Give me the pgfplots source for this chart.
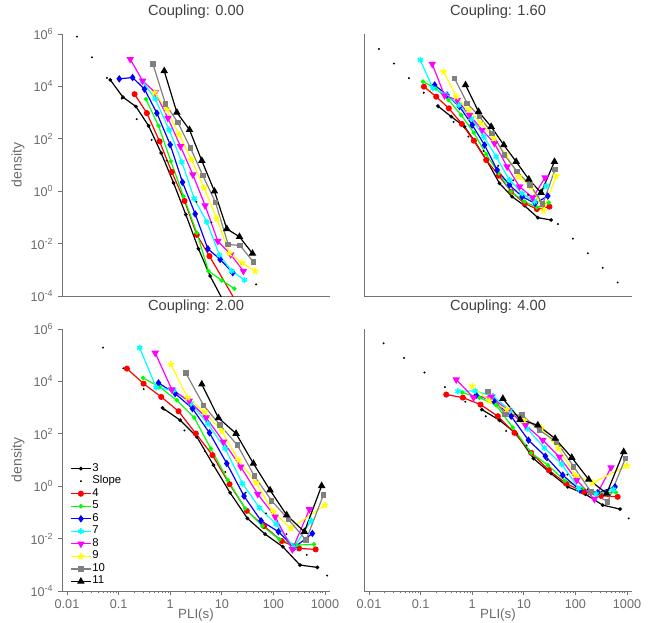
\documentclass[border=0pt]{standalone}
\usepackage{fontspec}
\setmainfont{Liberation Sans}
\usepackage{pgfplots}
\pgfplotsset{compat=1.18}
\usetikzlibrary{plotmarks}
\definecolor{cR}{rgb}{1,0,0}
\definecolor{cG}{rgb}{0,1,0}
\definecolor{cB}{rgb}{0,0,1}
\definecolor{cC}{rgb}{0,1,1}
\definecolor{cM}{rgb}{1,0,1}
\definecolor{cY}{rgb}{1,1,0}
\definecolor{cK}{rgb}{0.5,0.5,0.5}
\definecolor{axgray}{rgb}{0.45,0.45,0.45}
\definecolor{lblgray}{rgb}{0.42,0.42,0.42}
\pgfplotsset{
 s3/.style={black, line width=0.9pt, mark=*, mark size=0.9pt},
 sl/.style={black, only marks, mark=*, mark size=0.5pt},
 s4/.style={cR, line width=0.9pt, mark=*, mark size=1.8pt},
 s5/.style={cG, line width=0.9pt, mark=*, mark size=1.2pt},
 s6/.style={cB, line width=0.9pt, mark=diamond*, mark size=2.1pt},
 s7/.style={cC, line width=0.9pt, mark=asterisk, mark size=2.3pt, mark options={line width=1.1pt}},
 s8/.style={cM, line width=0.9pt, mark=triangle*, mark size=2.4pt, mark options={rotate=180}},
 s9/.style={cY, line width=0.9pt, mark=star, mark size=2.5pt, mark options={line width=1.2pt}},
 s10/.style={cK, line width=0.9pt, mark=square*, mark size=1.6pt},
 s11/.style={black, line width=0.9pt, mark=triangle*, mark size=2.4pt},
}
\begin{document}
\begin{tikzpicture}
\path[use as bounding box] (0,0) rectangle (489.75pt,-466.5pt);
% ---------- Coupling 0.00
\begin{axis}[
  xmode=log, ymode=log, scale only axis, width=201pt, height=196.5pt,
  xmin=0.008, xmax=1250, ymin=1e-4, ymax=1e6,
  axis lines=left, axis line style={draw=axgray, line width=0.6pt, -},
  tick align=outside, tick style={draw=axgray, line width=0.5pt},
  major tick length=3pt, minor tick length=1.6pt,
  yminorticks=false, xminorticks=false, xtick=\empty,
  ytick={1e-4,1e-2,1,1e2,1e4,1e6},
  yticklabels={10\textsuperscript{-4},10\textsuperscript{-2},10\textsuperscript{0},10\textsuperscript{2},10\textsuperscript{4},10\textsuperscript{6}},
  tick label style={font=\fontsize{9.5}{10}\selectfont, text=lblgray},
  title style={font=\fontsize{11}{12}\selectfont, text=black!75, at={(0.5,1)}, anchor=south, yshift=2pt},
  ylabel style={at={(axis description cs:-0.164,0.5)}, anchor=center, font=\fontsize{10.5}{12}\selectfont, text=lblgray},
  at={(46.5pt,-222pt)}, anchor=south west, title={Coupling: 0.00}, ylabel={density}]
\addplot[s3] coordinates {(0.0690,1.774e4)(0.1213,3882)(0.2163,1714)(0.381,314)(0.670,28.6)(1.161,2.065)(2.009,0.1285)(3.532,6.34e-3)(5.94,5.77e-4)(11.5,5e-5)};
\addplot[sl] coordinates {(0.0156,7.94e5)(0.0304,1.29e5)(0.0593,2.11e4)(0.1153,3440)(0.2244,560)(0.4365,91.2)(0.851,14.9)(1.656,2.42)(3.22,0.394)(6.28,0.0643)(12.2,0.0105)(23.8,1.71e-3)(46.2,2.78e-4)};
\addplot[s4] coordinates {(0.204,5047)(0.353,955)(0.622,79.6)(1.076,5.42)(1.892,0.426)(3.281,0.0216)(5.77,3.33e-3)(20,5e-5)};
\addplot[s5] coordinates {(0.338,3258)(0.594,314)(1.030,13.8)(1.811,0.641)(3.281,0.0258)(5.52,8.95e-4)(10.0,3.94e-4)(17.6,1.90e-4)};
\addplot[s6] coordinates {(0.1030,1.94e4)(0.1866,2.18e4)(0.318,7816)(0.552,955)(1.0,59.4)(1.734,2.19)(3.048,0.136)(5.36,6.34e-3)(9.29,2.49e-3)(16.3,7.73e-4)};
\addplot[s7] coordinates {(0.292,1.53e4)(0.513,3350)(0.957,221)(1.683,13.0)(2.917,0.523)(5.13,0.0676)(9.02,3.64e-3)(15.6,8.95e-4)(27.5,4.06e-4)};
\addplot[s8] coordinates {(0.168,1.09e5)(0.292,1.63e4)(0.513,5830)(0.902,615)(1.585,51.4)(2.748,4.29)(4.75,0.283)(8.37,0.0124)(14.9,3.85e-3)(26.2,8.95e-4)};
\addplot[s9] coordinates {(0.498,5830)(0.861,1279)(1.493,143)(2.588,16.0)(4.55,1.33)(8.0,0.0906)(14.1,4.21e-3)(24.4,1.86e-3)(44.2,8.95e-4)};
\addplot[s10] coordinates {(0.462,7.21e4)(0.813,2099)(1.406,421)(2.477,44.4)(4.29,3.93)(7.53,0.379)(13.3,9.27e-3)(22.6,8.49e-3)(41.0,1.97e-3)};
\addplot[s11] coordinates {(0.766,3.90e4)(1.346,1012)(2.366,221)(4.10,14.6)(7.21,0.993)(12.5,0.0366)(22.0,0.0182)(39.3,4.21e-3)};
\end{axis}
% ---------- Coupling 1.60
\begin{axis}[
  xmode=log, ymode=log, scale only axis, width=201pt, height=196.5pt,
  xmin=0.008, xmax=1250, ymin=1e-4, ymax=1e6,
  axis lines=left, axis line style={draw=axgray, line width=0.6pt, -},
  yminorticks=false, xminorticks=false, xtick=\empty, ytick=\empty,
  title style={font=\fontsize{11}{12}\selectfont, text=black!75, at={(0.5,1)}, anchor=south, yshift=2pt},
  at={(273pt,-222pt)}, anchor=south west, title={Coupling: 1.60}]
\addplot[s3] coordinates {(0.216,1786)(0.393,700)(0.711,290)(1.109,82.4)(1.923,14.6)(3.38,2.0)(5.94,0.618)(10.3,0.281)(18.7,0.0977)(33.8,0.0796)};
\addplot[sl] coordinates {(0.0156,2.69e5)(0.0304,7.46e4)(0.0592,2.07e4)(0.115,5740)(0.224,1590)(0.436,442)(0.847,122)(1.65,34)(3.21,9.42)(6.24,2.61)(12.1,0.724)(23.6,0.201)(45.9,0.0557)(89.3,0.0155)(174,4.29e-3)(338,1.19e-3)(658,3.30e-4)};
\addplot[s4] coordinates {(0.116,9772)(0.201,4055)(0.353,1455)(0.631,367)(1.076,84.9)(1.866,15.5)(3.281,3.92)(5.69,0.959)(10.3,0.344)(17.9,0.209)(31.4,0.257)};
\addplot[s5] coordinates {(0.111,1.52e4)(0.195,8433)(0.348,3027)(0.612,809)(1.076,171)(1.866,25.5)(3.281,4.81)(5.69,0.959)(10.3,0.399)(17.9,0.242)(30.5,0.365)};
\addplot[s6] coordinates {(0.187,1.13e4)(0.324,4699)(0.569,1683)(1.0,337)(1.734,58.0)(3.048,6.44)(5.28,1.73)(9.29,0.618)(16.6,0.344)(29.2,0.656)};
\addplot[s7] coordinates {(0.0986,1.02e5)(0.173,8433)(0.314,4977)(0.552,1950)(0.957,604)(1.683,120)(2.917,20.8)(5.28,2.67)(9.29,0.828)(16.1,0.399)(27.0,1.58)};
\addplot[s8] coordinates {(0.168,7.16e4)(0.292,4426)(0.513,3027)(0.887,809)(1.563,217)(2.704,67.1)(4.75,8.63)(8.24,1.49)(14.9,0.566)(25.9,3.28)};
\addplot[s9] coordinates {(0.279,3.65e4)(0.490,4055)(0.849,1256)(1.493,389)(2.624,104)(4.55,24.1)(8.0,3.59)(13.9,1.49)(24.0,0.181)(42.3,3.80)};
\addplot[s10] coordinates {(0.455,2.03e4)(0.800,2259)(1.387,700)(2.438,162)(4.23,24.1)(7.43,5.57)(13.3,1.73)(23.3,0.324)(40.4,6.84)};
\addplot[s11] coordinates {(0.743,1.13e4)(1.327,1086)(2.333,290)(4.10,58.0)(7.11,13.4)(12.5,2.84)(21.6,0.879)(39.3,13.4)};
\end{axis}
% ---------- Coupling 2.00
\begin{axis}[
  xmode=log, ymode=log, scale only axis, width=201pt, height=196.5pt,
  xmin=0.008, xmax=1250, ymin=1e-4, ymax=1e6,
  axis lines=left, axis line style={draw=axgray, line width=0.6pt, -},
  tick align=outside, tick style={draw=axgray, line width=0.5pt},
  major tick length=3pt, minor tick length=1.6pt,
  yminorticks=false,
  xtick={0.01,0.1,1,10,100,1000},
  xticklabels={0.01,0.1,1,10,100,1000},
  ytick={1e-4,1e-2,1,1e2,1e4,1e6},
  yticklabels={10\textsuperscript{-4},10\textsuperscript{-2},10\textsuperscript{0},10\textsuperscript{2},10\textsuperscript{4},10\textsuperscript{6}},
  tick label style={font=\fontsize{9.5}{10}\selectfont, text=lblgray},
  title style={font=\fontsize{11}{12}\selectfont, text=black!75, at={(0.5,1)}, anchor=south, yshift=2pt},
  ylabel style={at={(axis description cs:-0.164,0.5)}, anchor=center, font=\fontsize{10.5}{12}\selectfont, text=lblgray},
  xlabel style={at={(axis description cs:0.5,-0.093)}, anchor=center, inner sep=0pt, font=\fontsize{10}{11}\selectfont, text=lblgray},
  at={(46.5pt,-443.25pt)}, anchor=south west, title={Coupling: 2.00}, ylabel={density}, xlabel={PLI(s)},
  legend image code/.code={\draw[mark repeat=2,mark phase=2,#1] plot coordinates {(0pt,0pt) (7.5pt,0pt) (15pt,0pt)};},
  legend style={draw=none, fill=none, at={(0.03,0.492)}, anchor=north west, inner sep=0pt, row sep=0pt,
    font=\fontsize{8.5}{9}\selectfont, nodes={inner sep=0.6pt, text height=6pt, text depth=2.2pt}},
  legend cell align=left]
\addplot[s3] coordinates {(0.711,975)(1.563,330)(3.281,76.4)(6.90,6.35)(14.5,0.560)(31.4,0.0589)(69.0,0.0149)(152,4.90e-3)(328,9.79e-4)(711,7.98e-4)};
\addlegendentry{3}
\addplot[sl] coordinates {(0.0498,1.95e5)(0.1236,3.16e4)(0.307,5110)(0.762,826)(1.89,134)(4.70,21.6)(11.7,3.50)(29.0,0.566)(71.9,0.0916)(179,0.0148)(444,2.40e-3)(1102,3.88e-4)};
\addlegendentry{Slope}
\addplot[s4] coordinates {(0.145,3.08e4)(0.305,8241)(0.670,2559)(1.449,728)(3.14,102)(6.59,15.3)(14.1,1.20)(30.5,0.115)(65.9,0.0301)(145,8.05e-3)(314,4.23e-3)(659,3.87e-3)};
\addlegendentry{4}
\addplot[s5] coordinates {(0.296,1.36e4)(0.622,6152)(1.346,1910)(2.917,417)(6.12,27.4)(13.1,1.70)(28.3,0.142)(61.2,0.0301)(131,9.31e-3)(283,5.66e-3)(612,6.01e-3)};
\addlegendentry{5}
\addplot[s6] coordinates {(0.594,8750)(1.25,3428)(2.704,918)(5.77,109)(12.5,7.36)(27.0,0.418)(57.7,0.048)(125,0.0183)(255,4.61e-3)(569,0.0158)};
\addlegendentry{6}
\addplot[s7] coordinates {(0.255,1.94e5)(0.536,5808)(1.161,4592)(2.512,1426)(5.36,246)(11.6,27.4)(25.1,1.27)(53.6,0.150)(113,0.0358)(251,4.61e-3)(536,0.048)};
\addlegendentry{7}
\addplot[s8] coordinates {(0.513,1.22e5)(1.076,4864)(2.333,1799)(4.98,417)(10.8,49.2)(23.3,5.50)(49.8,0.499)(108,0.0682)(233,3.87e-3)(498,0.130)};
\addlegendentry{8}
\addplot[s9] coordinates {(1.030,4.50e4)(2.163,2410)(4.62,686)(10.0,129)(21.0,9.86)(46.2,1.35)(100,0.106)(216,0.0245)(1000,0.190)};
\addlegendentry{9}
\addplot[s10] coordinates {(2.009,2.10e4)(4.42,1230)(9.29,213)(20.1,36.7)(42.9,2.42)(92.9,0.277)(195,0.054)(429,8.79e-3)(929,0.456)};
\addlegendentry{10}
\addplot[s11] coordinates {(4.10,7780)(8.61,405)(18.9,102)(41.0,7.36)(86.1,0.708)(181,0.0789)(398,0.0183)(861,1.035)};
\addlegendentry{11}
\end{axis}
% ---------- Coupling 4.00
\begin{axis}[
  xmode=log, ymode=log, scale only axis, width=201pt, height=196.5pt,
  xmin=0.008, xmax=1250, ymin=1e-4, ymax=1e6,
  axis lines=left, axis line style={draw=axgray, line width=0.6pt, -},
  tick align=outside, tick style={draw=axgray, line width=0.5pt},
  major tick length=3pt, minor tick length=1.6pt,
  yminorticks=false, ytick=\empty,
  xtick={0.01,0.1,1,10,100,1000},
  xticklabels={0.01,0.1,1,10,100,1000},
  tick label style={font=\fontsize{9.5}{10}\selectfont, text=lblgray},
  title style={font=\fontsize{11}{12}\selectfont, text=black!75, at={(0.5,1)}, anchor=south, yshift=2pt},
  xlabel style={at={(axis description cs:0.5,-0.093)}, anchor=center, inner sep=0pt, font=\fontsize{10}{11}\selectfont, text=lblgray},
  at={(273pt,-443.25pt)}, anchor=south west, title={Coupling: 4.00}, xlabel={PLI(s)}]
\addplot[s3] coordinates {(1.538,841)(3.38,330)(7.11,102)(15.4,11.4)(33.8,3.05)(71.1,0.948)(156,0.499)(338,0.190)(733,0.134)};
\addplot[sl] coordinates {(0.0192,2.84e5)(0.0478,7.89e4)(0.119,2.19e4)(0.296,6070)(0.736,1680)(1.83,467)(4.55,129)(11.3,35.9)(28.2,9.95)(70.0,2.76)(174,0.766)(434,0.212)(1077,0.0589)};
\addplot[s4] coordinates {(0.314,3141)(0.659,2410)(1.449,1306)(3.14,469)(6.59,109)(13.9,18.7)(30.5,4.09)(65.9,1.27)(143,0.612)(314,0.431)(659,0.394)};
\addplot[s5] coordinates {(0.64,3741)(1.387,2410)(2.917,1230)(6.12,173)(13.9,18.7)(29.2,6.35)(63.1,1.61)(135,0.820)(292,0.560)(612,0.577)};
\addplot[s6] coordinates {(1.194,2958)(2.624,1799)(5.69,469)(12.3,57.0)(26.2,14.0)(56.9,2.64)(123,0.708)(270,0.560)(586,0.948)};
\addplot[s7] coordinates {(0.528,4207)(1.143,4335)(2.512,2710)(5.43,794)(11.6,159)(25.1,29.1)(54.3,6.93)(116,0.820)(251,0.499)(543,0.752)};
\addplot[s8] coordinates {(0.490,1.17e4)(1.062,2410)(2.333,2559)(4.90,794)(10.8,213)(23.3,57.0)(49.0,13.2)(106,1.70)(233,0.321)(490,5.18)};
\addplot[s9] coordinates {(1.0,6516)(2.163,1799)(4.69,841)(10.0,330)(21.6,173)(46.9,27.4)(100,2.64)(216,1.35)(1000,6.0)};
\addplot[s10] coordinates {(2.009,4207)(4.36,558)(9.29,512)(20.1,137)(43.5,49.2)(92.9,5.50)(201,0.612)(423,0.254)(929,11.4)};
\addplot[s11] coordinates {(3.93,2208)(8.49,350)(18.7,213)(40.4,66.1)(84.9,12.4)(181,1.81)(404,0.528)(861,20.5)};
\end{axis}
\end{tikzpicture}
\end{document}
